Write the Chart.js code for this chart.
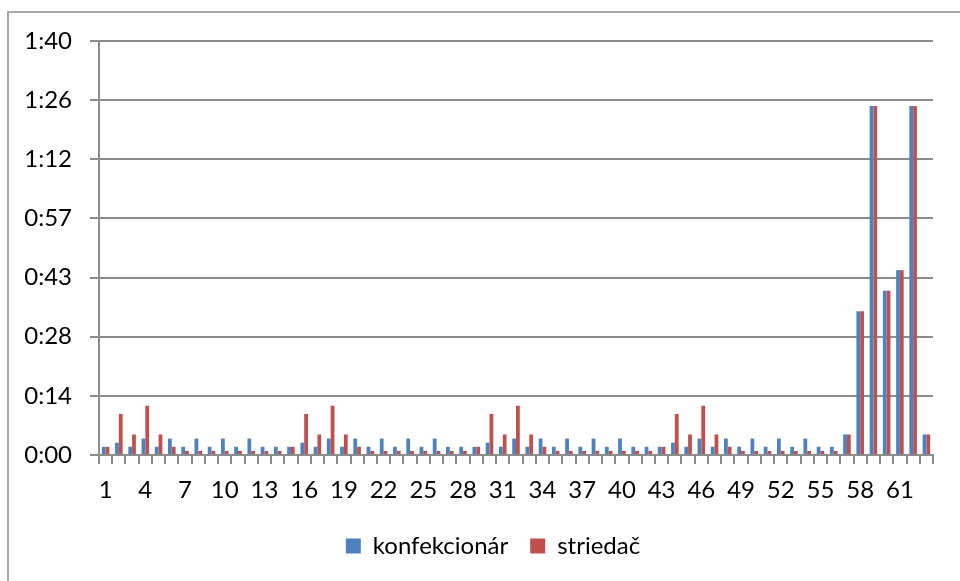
<!DOCTYPE html>
<html lang="sk">
<head>
    <meta charset="UTF-8">
    <title>konfekcionár / striedač</title>
    <script src="https://cdn.jsdelivr.net/npm/chart.js"></script>
    <style>
        body { margin: 0; background: #fff; }
        .frame {
            position: absolute; left: 7px; top: 11px; width: 1000px; height: 600px;
            border-left: 2px solid #a6a6a6; border-top: 2px solid #a6a6a6;
        }
        .wrap { position: absolute; left: 0; top: 0; width: 960px; height: 581px; }
    </style>
</head>
<body>
    <div class="frame"></div>
    <div class="wrap">
        <canvas id="myChart" width="960" height="581"></canvas>
    </div>

    <script>
        // poradové čísla 1..63
        const categories = ['1','2','3','4','5','6','7','8','9','10','11','12','13','14','15','16','17','18','19','20',
            '21','22','23','24','25','26','27','28','29','30','31','32','33','34','35','36','37','38','39','40',
            '41','42','43','44','45','46','47','48','49','50','51','52','53','54','55','56','57','58','59','60',
            '61','62','63'];

        // časy v minútach
        const konfekcionar = [2,3,2,4,2,4,2,4,2,4,2,4,2,2,2,3,2,4,2,4,
            2,4,2,4,2,4,2,2,2,3,2,4,2,4,2,4,2,4,2,4,
            2,2,2,3,2,4,2,4,2,4,2,4,2,4,2,2,5,35,85,40,
            45,85,5];
        const striedac = [2,10,5,12,5,2,1,1,1,1,1,1,1,1,2,10,5,12,5,2,
            1,1,1,1,1,1,1,1,2,10,5,12,5,2,1,1,1,1,1,1,
            1,1,2,10,5,12,5,2,1,1,1,1,1,1,1,1,5,35,85,40,
            45,85,5];

        // os Y: krok 0,01 dňa = 14,4 min
        const yMax = 100.8;
        const yStep = 14.4;

        const gridColor = '#8c8c8c';
        const font = { family: 'Lato, "DejaVu Sans", sans-serif', size: 24 };

        function fmtTime(v) {
            const m = Math.floor(v + 1e-6);
            const h = Math.floor(m / 60);
            const mm = m % 60;
            return h + ':' + (mm < 10 ? '0' : '') + mm;
        }

        // legenda je trochu posunutá doprava
        const legendShift = {
            id: 'legendShift',
            afterLayout(chart) {
                chart.legend.left += 19;
                chart.legend.right += 19;
            }
        };

        const ctx = document.getElementById('myChart').getContext('2d');
        const myChart = new Chart(ctx, {
            type: 'bar',
            data: {
                labels: categories,
                datasets: [{
                    label: 'konfekcionár',
                    data: konfekcionar,
                    backgroundColor: '#4f81bd',
                    barPercentage: 1,
                    categoryPercentage: 2 / 3.5
                }, {
                    label: 'striedač',
                    data: striedac,
                    backgroundColor: '#c0504d',
                    barPercentage: 1,
                    categoryPercentage: 2 / 3.5
                }]
            },
            plugins: [legendShift],
            options: {
                responsive: false,
                animation: false,
                layout: { padding: { top: 41, left: 15, right: 27, bottom: 13 } },
                plugins: {
                    tooltip: { enabled: false },
                    legend: {
                        position: 'bottom',
                        labels: {
                            color: '#000',
                            font: font,
                            boxWidth: 15,
                            boxHeight: 15,
                            padding: 22
                        }
                    }
                },
                scales: {
                    x: {
                        grid: {
                            offset: true,
                            drawOnChartArea: false,
                            drawTicks: true,
                            tickLength: 9,
                            color: gridColor,
                            lineWidth: 2
                        },
                        border: { display: true, color: gridColor, width: 2 },
                        ticks: {
                            autoSkip: false,
                            maxRotation: 0,
                            padding: 12,
                            color: '#000',
                            font: font,
                            callback: function (value, index) {
                                return index % 3 === 0 ? this.getLabelForValue(value) : '';
                            }
                        },
                        afterFit: function (scale) { scale.height = 57; }
                    },
                    y: {
                        min: 0,
                        max: yMax,
                        grid: {
                            color: gridColor,
                            lineWidth: 2,
                            tickLength: 9
                        },
                        border: { display: true, color: gridColor, width: 2 },
                        ticks: {
                            stepSize: yStep,
                            padding: 18,
                            color: '#000',
                            font: font,
                            callback: function (value) { return fmtTime(value); }
                        },
                        afterFit: function (scale) { scale.width = 84; }
                    }
                }
            }
        });
    </script>
</body>
</html>
